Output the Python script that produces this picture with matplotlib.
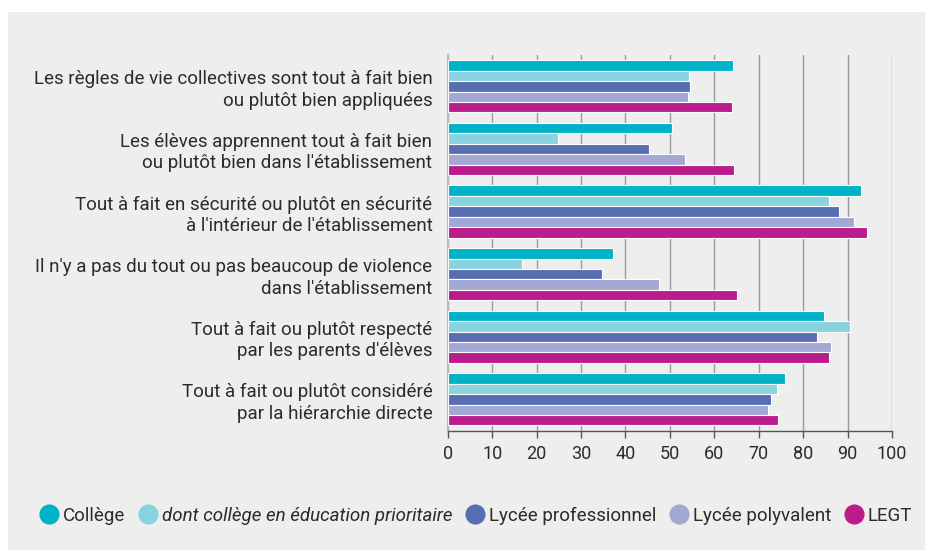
import matplotlib
matplotlib.use("Agg")
import matplotlib.pyplot as plt
from matplotlib.lines import Line2D
from matplotlib.patches import Rectangle
import numpy as np

plt.rcParams["font.family"] = ["Roboto", "DejaVu Sans"]

CATEGORIES = [
    "Les règles de vie collectives sont tout à fait bien\nou plutôt bien appliquées",
    "Les élèves apprennent tout à fait bien\nou plutôt bien dans l'établissement",
    "Tout à fait en sécurité ou plutôt en sécurité\nà l'intérieur de l'établissement",
    "Il n'y a pas du tout ou pas beaucoup de violence\ndans l'établissement",
    "Tout à fait ou plutôt respecté\npar les parents d'élèves",
    "Tout à fait ou plutôt considéré\npar la hiérarchie directe",
]

SERIES = [
    "Collège",
    "dont collège en éducation prioritaire",
    "Lycée professionnel",
    "Lycée polyvalent",
    "LEGT",
]

college = [64.2, 50.4, 93.1, 37.1, 84.7, 76.0]
college_ep = [54.3, 24.8, 85.8, 16.7, 90.5, 74.1]
lycee_pro = [54.5, 45.2, 88.0, 34.7, 83.2, 72.7]
lycee_poly = [54.1, 53.3, 91.4, 47.5, 86.2, 72.2]
legt = [64.0, 64.4, 94.3, 65.2, 85.9, 74.3]

COLORS = ["#00b2c5", "#88d3df", "#596db3", "#a2a7d3", "#bb1c8b"]

TICKS = [0, 10, 20, 30, 40, 50, 60, 70, 80, 90, 100]

BG = "#eeeeee"
TXT = "#2b2b2b"
FS = 13.5

fig = plt.figure(figsize=(9.25, 5.5), dpi=100, facecolor="white")
fig.patches.append(Rectangle((8 / 925, 0), 1, 1 - 12 / 550,
                             transform=fig.transFigure, facecolor=BG,
                             edgecolor="none", zorder=-10))

ax = fig.add_axes([447.7 / 925, 1 - 430.7 / 550, (892 - 447.7) / 925,
                   (430.7 - 55) / 550])
ax.set_facecolor(BG)

values = [college, college_ep, lycee_pro, lycee_poly, legt]
y = np.arange(len(CATEGORIES))
h = 1 / 6
for k, (vals, col) in enumerate(zip(values, COLORS)):
    ax.barh(y + (k - 2) * h, vals, height=h, color=col,
            edgecolor="white", linewidth=0.8, zorder=3)

ax.set_xlim(0, 100)
ax.set_ylim(len(CATEGORIES) - 0.5, -0.5)
ax.set_xticks(TICKS)
ax.set_xticklabels([str(t) for t in TICKS], fontsize=13, color=TXT)
ax.set_yticks(y)
ax.set_yticklabels(CATEGORIES, fontsize=FS, color=TXT, linespacing=1.25)
ax.tick_params(axis="y", length=0, pad=11)
ax.tick_params(axis="x", length=5, width=1, color="#555555", pad=5)
ax.grid(axis="x", color="#9a9a9a", linewidth=1, zorder=0)
ax.set_axisbelow(True)
for s in ["top", "right"]:
    ax.spines[s].set_visible(False)
ax.spines["bottom"].set_color("#555555")
ax.spines["bottom"].set_linewidth(1)
ax.spines["left"].set_color("#bbbbbb")
ax.spines["left"].set_linewidth(1.5)

handles = [Line2D([], [], marker="o", linestyle="none", markersize=13.5,
                  markerfacecolor=c, markeredgecolor=c) for c in COLORS]
leg = fig.legend(handles, SERIES, loc="center", ncol=5,
                 bbox_to_anchor=(476 / 925, 1 - 516 / 550),
                 frameon=False, fontsize=FS, handlelength=1.0,
                 handletextpad=0.2, columnspacing=0.75, borderaxespad=0)
for i, t in enumerate(leg.get_texts()):
    t.set_color(TXT)
    if i == 1:
        t.set_style("italic")

fig.savefig("out.png", dpi=100, facecolor="white")
